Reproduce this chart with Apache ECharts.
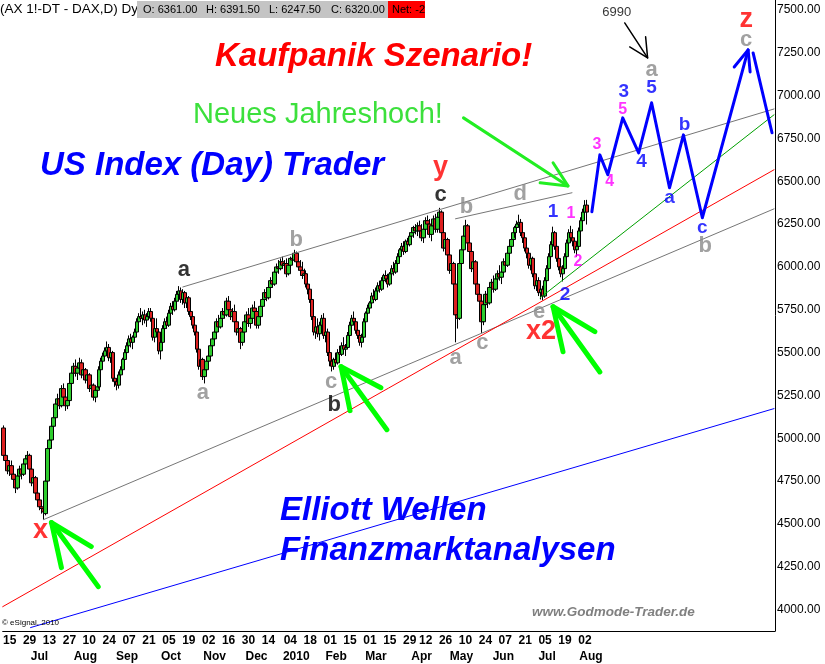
<!DOCTYPE html>
<html><head><meta charset="utf-8">
<script src="https://cdn.jsdelivr.net/npm/echarts@6/dist/echarts.min.js"></script>
<style>html,body{margin:0;padding:0;background:#fff}#c{width:825px;height:664px}</style>
</head><body><div id="c"></div>
<script>
// ---------- data ----------
const firstDay = '2009-06-10';
const holidays = ['2009-12-24','2009-12-25','2009-12-31','2010-01-01','2010-04-02','2010-04-05'];
const slotCount = 388; // trading days incl. projection area

const dayTickDates = ['2009-06-15','2009-06-29','2009-07-13','2009-07-27','2009-08-10','2009-08-24','2009-09-07','2009-09-21','2009-10-05','2009-10-19','2009-11-02','2009-11-16','2009-11-30','2009-12-14','2010-01-04','2010-01-18','2010-02-01','2010-02-15','2010-03-01','2010-03-15','2010-03-29','2010-04-12','2010-04-26','2010-05-10','2010-05-24','2010-06-07','2010-06-21','2010-07-05','2010-07-19','2010-08-02'];
const monthTickDates = ['2009-07-06','2009-08-06','2009-09-04','2009-10-06','2009-11-05','2009-12-04','2010-01-07','2010-02-04','2010-03-04','2010-04-08','2010-05-06','2010-06-04','2010-07-06','2010-08-05'];
const monthTickTexts = ['Jul','Aug','Sep','Oct','Nov','Dec','2010','Feb','Mar','Apr','May','Jun','Jul','Aug'];

// daily bars: [open, high, low, close]
const dailyOHLC = [
[5060,5075,4880,4900],[4900,4920,4850,4870],[4870,4890,4790,4810],[4810,4860,4780,4840],[4840,4870,4770,4790],
[4790,4830,4740,4760],[4760,4790,4680,4710],[4710,4800,4700,4780],[4780,4840,4760,4820],[4820,4850,4760,4790],
[4790,4870,4780,4850],[4850,4900,4820,4880],[4880,4925,4850,4900],[4900,4910,4800,4820],[4820,4840,4720,4740],
[4740,4790,4700,4770],[4770,4780,4660,4680],[4680,4700,4620,4640],[4640,4670,4580,4600],[4600,4640,4560,4590],
[4590,4610,4525,4570],[4560,4770,4550,4750],[4750,4960,4740,4940],[4940,5020,4920,4990],[4990,5090,4980,5070],
[5070,5150,5050,5120],[5120,5220,5100,5200],[5200,5260,5170,5230],[5230,5270,5170,5190],[5190,5310,5180,5290],
[5290,5320,5220,5240],[5240,5250,5160,5190],[5190,5240,5170,5220],[5220,5330,5210,5320],[5320,5400,5300,5380],
[5380,5440,5350,5420],[5420,5460,5360,5380],[5380,5430,5340,5410],[5410,5470,5390,5440],[5440,5460,5350,5370],
[5370,5420,5340,5400],[5400,5410,5320,5340],[5340,5390,5310,5370],[5370,5380,5270,5290],[5290,5330,5250,5310],
[5310,5320,5220,5240],[5240,5300,5210,5280],[5280,5330,5260,5300],[5300,5420,5290,5400],[5400,5470,5380,5450],
[5450,5500,5420,5480],[5480,5530,5460,5510],[5510,5565,5480,5530],[5530,5550,5450,5470],[5470,5520,5440,5500],
[5500,5510,5330,5350],[5350,5380,5300,5330],[5330,5350,5280,5310],[5310,5390,5290,5370],[5370,5420,5350,5400],
[5400,5470,5390,5460],[5460,5520,5440,5500],[5500,5560,5480,5540],[5540,5600,5510,5580],[5580,5610,5530,5560],
[5560,5600,5520,5590],[5590,5640,5570,5620],[5620,5700,5610,5680],[5680,5730,5650,5710],[5710,5760,5680,5700],
[5700,5740,5660,5720],[5720,5750,5670,5690],[5690,5730,5650,5710],[5710,5760,5690,5740],[5740,5760,5680,5700],
[5700,5720,5570,5590],[5590,5660,5560,5640],[5640,5700,5600,5620],[5620,5630,5490,5510],[5510,5580,5460,5560],
[5560,5660,5550,5640],[5640,5700,5620,5680],[5680,5710,5640,5660],[5660,5750,5650,5730],[5730,5790,5710,5770],
[5770,5800,5720,5750],[5750,5820,5740,5800],[5800,5860,5790,5840],[5840,5888,5800,5860],[5860,5880,5790,5810],
[5810,5870,5780,5850],[5850,5860,5760,5790],[5790,5840,5760,5820],[5820,5830,5720,5740],[5740,5780,5690,5710],
[5710,5720,5640,5660],[5660,5680,5600,5620],[5620,5640,5500,5520],[5520,5530,5400,5420],[5420,5480,5380,5460],
[5460,5470,5340,5360],[5360,5420,5320,5400],[5400,5470,5390,5450],[5450,5500,5430,5480],[5480,5560,5470,5540],
[5540,5600,5520,5580],[5580,5640,5560,5620],[5620,5700,5600,5680],[5680,5720,5630,5650],[5650,5720,5640,5700],
[5700,5760,5680,5740],[5740,5790,5700,5720],[5720,5820,5710,5800],[5800,5830,5730,5750],[5750,5800,5690,5710],
[5710,5760,5680,5740],[5740,5780,5660,5680],[5680,5700,5600,5620],[5620,5660,5560,5640],[5640,5650,5520,5560],
[5560,5640,5540,5620],[5620,5700,5600,5680],[5680,5740,5660,5720],[5720,5760,5650,5670],[5670,5720,5640,5700],
[5700,5780,5690,5760],[5760,5800,5720,5740],[5740,5760,5640,5660],[5660,5730,5640,5710],[5710,5790,5700,5770],
[5770,5830,5750,5810],[5810,5870,5800,5850],[5850,5880,5800,5820],[5820,5900,5810,5880],[5880,5940,5860,5920],
[5920,5960,5880,5900],[5900,5990,5890,5970],[5970,6020,5950,6000],[6000,6040,5960,5990],[5990,6050,5980,6030],
[6030,6060,5990,6010],[6010,6040,5970,6020],[6020,6050,5940,5960],[5960,6020,5950,6010],[6010,6060,6000,6050],
[6050,6080,6020,6040],[6040,6100,6030,6080],[6080,6090,6010,6030],[6030,6060,5980,6000],[6000,6040,5950,5980],
[5980,6030,5930,5950],[5950,5990,5900,5960],[5960,5980,5880,5900],[5900,5920,5840,5870],[5870,5890,5790,5810],
[5810,5830,5690,5710],[5710,5730,5600,5620],[5620,5680,5580,5650],[5650,5700,5590,5610],[5610,5680,5570,5660],
[5660,5720,5620,5700],[5700,5730,5580,5600],[5600,5650,5560,5620],[5620,5640,5480,5500],[5500,5530,5420,5450],
[5450,5480,5390,5420],[5420,5470,5400,5460],[5460,5500,5420,5440],[5440,5520,5430,5500],[5500,5540,5470,5490],
[5490,5560,5480,5540],[5540,5590,5500,5520],[5520,5550,5480,5530],[5530,5620,5520,5600],[5600,5680,5590,5660],
[5660,5720,5640,5700],[5700,5740,5660,5680],[5680,5700,5610,5630],[5630,5660,5580,5600],[5600,5620,5540,5560],
[5560,5610,5530,5590],[5590,5700,5580,5680],[5680,5740,5670,5730],[5730,5780,5710,5760],[5760,5800,5730,5790],
[5790,5850,5770,5830],[5830,5870,5790,5810],[5810,5880,5800,5860],[5860,5910,5840,5890],[5890,5920,5850,5870],
[5870,5940,5860,5920],[5920,5960,5900,5950],[5950,5980,5910,5930],[5930,5960,5880,5900],[5900,5970,5890,5960],
[5960,6010,5940,5990],[5990,6030,5950,5970],[5970,6040,5960,6020],[6020,6080,6010,6060],[6060,6110,6040,6100],
[6100,6140,6080,6120],[6120,6150,6070,6090],[6090,6160,6080,6150],[6150,6170,6110,6130],[6130,6200,6120,6180],
[6180,6220,6150,6200],[6200,6240,6170,6230],[6230,6250,6190,6210],[6210,6260,6180,6240],[6240,6270,6190,6210],
[6210,6250,6150,6170],[6170,6230,6140,6220],[6220,6290,6200,6270],[6270,6300,6230,6250],[6250,6280,6170,6190],
[6190,6260,6150,6240],[6240,6300,6220,6280],[6280,6310,6200,6220],[6220,6300,6200,6290],[6290,6345,6260,6320],
[6320,6330,6180,6200],[6200,6210,6090,6110],[6110,6180,6080,6160],[6160,6170,6050,6070],[6070,6090,5960,5980],
[5980,6050,5940,6020],[6020,6030,5880,5900],[5900,5940,5560,5720],[5720,5760,5640,5700],[5700,6040,5690,6020],
[6020,6120,6000,6100],[6100,6200,6070,6180],[6180,6275,6150,6240],[6240,6250,6120,6140],[6140,6180,6060,6090],
[6090,6100,5970,5990],[5990,6050,5940,6030],[6030,6040,5880,5900],[5900,5950,5820,5840],[5840,5900,5760,5800],
[5800,5820,5615,5680],[5680,5800,5660,5780],[5780,5860,5750,5840],[5840,5870,5760,5790],[5790,5900,5780,5880],
[5880,5930,5840,5910],[5910,5950,5850,5870],[5870,5940,5860,5930],[5930,5980,5900,5960],[5960,6010,5920,5940],
[5940,5990,5900,5970],[5970,6050,5950,6030],[6030,6080,5990,6010],[6010,6100,6000,6080],[6080,6140,6060,6120],
[6120,6180,6100,6160],[6160,6220,6140,6200],[6200,6240,6170,6230],[6230,6270,6200,6250],[6250,6305,6230,6260],
[6260,6280,6180,6200],[6200,6240,6140,6170],[6170,6200,6090,6110],[6110,6150,6050,6080],[6080,6100,5990,6010],
[6010,6070,5980,6050],[6050,6060,5940,5960],[5960,5990,5870,5890],[5890,5950,5860,5920],[5920,5940,5830,5850],
[5850,5900,5810,5870],[5870,5890,5805,5830],[5830,5940,5820,5920],[5920,6010,5900,5990],[5990,6080,5970,6060],
[6060,6150,6040,6130],[6130,6235,6110,6200],[6200,6210,6100,6120],[6120,6140,6030,6050],[6050,6080,5980,6000],
[6000,6030,5940,5960],[5960,6010,5915,5990],[5990,6080,5970,6060],[6060,6160,6040,6140],[6140,6220,6120,6200],
[6200,6240,6150,6170],[6170,6220,6120,6150],[6150,6170,6080,6100],[6100,6140,6060,6120],[6120,6230,6110,6210],
[6210,6290,6190,6270],[6270,6340,6250,6320],[6320,6390,6300,6360],[6361,6391.5,6247.5,6320]
];
const lastQuote = {open:6361, high:6391.5, low:6247.5, close:6320, net:-22};

// trend lines: [slot index, price]
const lineGrayUpper = [[90,5883],[387,6922]];
const lineGrayInner = [[227,6281],[285.5,6433]];
const lineGrayLower = [[20,4525],[387,6339]];
const lineRed = [[-0.5,4017],[387,6567]];
const lineBlue = [[13.5,3895],[387,5173]];
const lineGreen = [[269.5,5820],[387,6888]];

// projected path
const projectionPath = [[295.5,6322],[299.5,6654],[303.5,6538],[311,6870],[319,6666],[325.5,6958],[334.5,6462],[341.5,6771],[351,6287],[374,7267]];
const projectionHead = [[367,7167],[374,7267],[375,7138]];
const projectionTail = [[376.5,7249],[386,6783]];

// arrows: tail, tip, barb1, barb2
const greenArrows = [
  [[47.5,4134],[24,4508],[29,4245],[44,4368]],
  [[192.5,5050],[169.5,5418],[174,5161],[189.5,5295]],
  [[299.5,5387],[276,5768],[281,5505],[297,5622]]
];
const highArrow = [[231,6870],[283.5,6473],[269.5,6491],[276,6608]];
const targetArrow = [[312,7424],[323.5,7220],[314.5,7284],[322.5,7343]];

// wave labels: [slot, price, text]
const labelsGray = [[100,5266,'a'],[147,6158,'b'],[164.5,5330,'c'],[232.5,6351,'b'],[227,5470,'a'],[240.5,5558,'c'],[259.5,6427,'d'],[269,5738,'e'],[325.5,7150,'a'],[352.5,6123,'b'],[373,7325,'c']];
const labelsBlack = [[90.5,5983,'a'],[166,5196,'b'],[219.5,6421,'c']];
const labelsRed = [[18.5,4461,'x'],[219.5,6578,'y'],[270,5622,'x2'],[373,7442,'z']];
const labelsBlue = [[276,6322,'1'],[282,5838,'2'],[311.5,7022,'3'],[320.5,6613,'4'],[325.5,7045,'5'],[334.5,6403,'a'],[342,6829,'b'],[351,6228,'c']];
const labelsMagenta = [[285,6310,'1'],[288.5,6030,'2'],[298,6713,'3'],[304.5,6497,'4'],[311,6917,'5']];
const labelsNote = [[308,7488,'6990']];

// ---------- build ----------
const categories = [];
(function(){
  const d = new Date(firstDay + 'T00:00:00Z');
  while (categories.length < slotCount) {
    const wd = d.getUTCDay();
    const s = d.toISOString().slice(0,10);
    if (wd !== 0 && wd !== 6 && holidays.indexOf(s) < 0) categories.push(s);
    d.setUTCDate(d.getUTCDate() + 1);
  }
})();
const daySet = new Set(dayTickDates);
const monthMap = {};
monthTickDates.forEach((d,k)=>{ monthMap[d] = monthTickTexts[k]; });

const FONT = '"Liberation Sans", Arial, sans-serif';
const candleData = dailyOHLC.map(r => [r[0], r[3], r[2], r[1]]);

function poly(points, color, width, z) {
  return {type:'line', xAxisIndex:2, yAxisIndex:0, data:points, symbol:'none', silent:true,
    lineStyle:{color:color, width:width, cap:'round', join:'round'}, z:z || 4, animation:false};
}
function arrowSeries(a, color, width, z) {
  return [poly([a[0], a[1]], color, width, z), poly([a[2], a[1], a[3]], color, width, z)];
}
function labelSeries(list, color, size, weight) {
  return {type:'scatter', xAxisIndex:2, yAxisIndex:0, silent:true, symbolSize:1, z:8,
    itemStyle:{color:'rgba(0,0,0,0)'},
    data:list.map(d=>({value:[d[0], d[1]], name:d[2]})),
    label:{show:true, position:'inside', formatter:p=>p.name, color:color, fontSize:size, fontWeight:weight||'bold', fontFamily:FONT}};
}

const series = [
  {type:'candlestick', xAxisIndex:0, yAxisIndex:0, data:candleData, barWidth:4, z:3,
   itemStyle:{color:'#2ecc2e', color0:'#dd2020', borderColor:'#000', borderColor0:'#000', borderWidth:1},
   markLine:{silent:true, symbol:['none','none'], animation:false, lineStyle:{opacity:0},
     data:[{yAxis:lastQuote.close}],
     label:{show:true, position:'end', distance:1, formatter:lastQuote.close.toFixed(2), color:'#fff', backgroundColor:'#ff0000', fontSize:12, fontFamily:FONT, padding:[1,1,0,1]}}},
  poly(lineGrayUpper, '#767676', 1),
  poly(lineGrayInner, '#767676', 1),
  poly(lineGrayLower, '#767676', 1),
  poly(lineRed, '#ff0000', 1),
  poly(lineBlue, '#0000ff', 1),
  poly(lineGreen, '#00a000', 1),
  poly(projectionPath, '#0000ff', 3, 6),
  poly(projectionHead, '#0000ff', 3, 6),
  poly(projectionTail, '#0000ff', 3, 6),
  ...greenArrows.flatMap(a => arrowSeries(a, '#00ff00', 5, 7)),
  ...arrowSeries(highArrow, '#22ee22', 3, 7),
  ...arrowSeries(targetArrow, '#000000', 1.5, 7),
  labelSeries(labelsGray, '#8a8a8a', 22),
  labelSeries(labelsBlack, '#000000', 22),
  labelSeries(labelsRed, '#ff0000', 27),
  labelSeries(labelsBlue, '#0000ff', 19),
  labelSeries(labelsMagenta, '#ff00ff', 16),
  labelSeries(labelsNote, '#000000', 13, 'normal')
];

function txt(x, y, text, font, fill, extra) {
  return Object.assign({type:'text', x:x, y:y, silent:true, z:50,
    style:{text:text, font:font, fill:fill, textAlign:'left', align:'left', textVerticalAlign:'middle', verticalAlign:'middle'}}, extra||{});
}
const boldIt = 'italic bold 33px ' + FONT;
const graphics = [
  txt(215, 57, 'Kaufpanik Szenario!', boldIt, '#ff0000'),
  txt(193, 115, 'Neues Jahreshoch!', 'normal 29px ' + FONT, '#3ce03c'),
  txt(40, 166, 'US Index (Day) Trader', boldIt, '#0000ff'),
  txt(280, 511, 'Elliott Wellen', boldIt, '#0000ff'),
  txt(280, 551, 'Finanzmarktanalysen', boldIt, '#0000ff'),
  txt(532, 612, 'www.Godmode-Trader.de', 'italic bold 13.5px ' + FONT, '#808080'),
  txt(2, 623, '\u00a9 eSignal, 2010', 'normal 8px ' + FONT, '#000'),
  // header
  txt(0, 9, '(AX 1!-DT - DAX,D) Dynamic', 'normal 13.5px ' + FONT, '#000', {z:60}),
  {type:'rect', z:61, silent:true, shape:{x:137, y:1, width:251, height:17}, style:{fill:'#c4c4c4'}},
  {type:'rect', z:61, silent:true, shape:{x:388, y:1, width:37, height:17}, style:{fill:'#ff0000'}},
  txt(143, 10, 'O: ' + lastQuote.open.toFixed(2), 'normal 11px ' + FONT, '#000', {z:62}),
  txt(206, 10, 'H: ' + lastQuote.high.toFixed(2), 'normal 11px ' + FONT, '#000', {z:62}),
  txt(269, 10, 'L: ' + lastQuote.low.toFixed(2), 'normal 11px ' + FONT, '#000', {z:62}),
  txt(331, 10, 'C: ' + lastQuote.close.toFixed(2), 'normal 11px ' + FONT, '#000', {z:62}),
  txt(392, 10, 'Net: ' + lastQuote.net.toFixed(2), 'normal 11px ' + FONT, '#000', {z:62}),
  {type:'rect', z:63, silent:true, shape:{x:425, y:0, width:30, height:19}, style:{fill:'#ffffff'}}
];

const chart = echarts.init(document.getElementById('c'), null, {renderer:'canvas'});
chart.setOption({
  animation:false,
  backgroundColor:'#fff',
  grid:{left:0, top:0, width:775, height:631, containLabel:false},
  xAxis:[
    {type:'category', data:categories, boundaryGap:true, position:'bottom',
     axisLine:{show:true, onZero:false, lineStyle:{color:'#000', width:1}}, axisTick:{show:false}, splitLine:{show:false},
     axisLabel:{interval:(i,v)=>daySet.has(v), formatter:v=>v.slice(8,10), color:'#000', fontSize:12, fontWeight:'bold', fontFamily:FONT, margin:4, hideOverlap:false}},
    {type:'category', data:categories, boundaryGap:true, position:'bottom', offset:16,
     axisLine:{show:false, onZero:false}, axisTick:{show:false}, splitLine:{show:false},
     axisLabel:{interval:(i,v)=>monthMap[v]!==undefined, formatter:v=>monthMap[v]||'', color:'#000', fontSize:12, fontWeight:'bold', fontFamily:FONT, margin:4, hideOverlap:false}},
    {type:'value', min:-0.5, max:slotCount-0.5, show:false, axisLine:{onZero:false}}
  ],
  yAxis:{type:'value', position:'right', min:3875, max:7558, interval:125,
    axisLine:{show:true, onZero:false, lineStyle:{color:'#000', width:1}}, axisTick:{show:false}, splitLine:{show:false},
    axisLabel:{formatter:v=>(v%250===0 ? v.toFixed(2) : ''), color:'#000', fontSize:12, fontFamily:FONT, margin:2, showMinLabel:true, showMaxLabel:true}},
  series:series,
  graphic:graphics
});
</script></body></html>
